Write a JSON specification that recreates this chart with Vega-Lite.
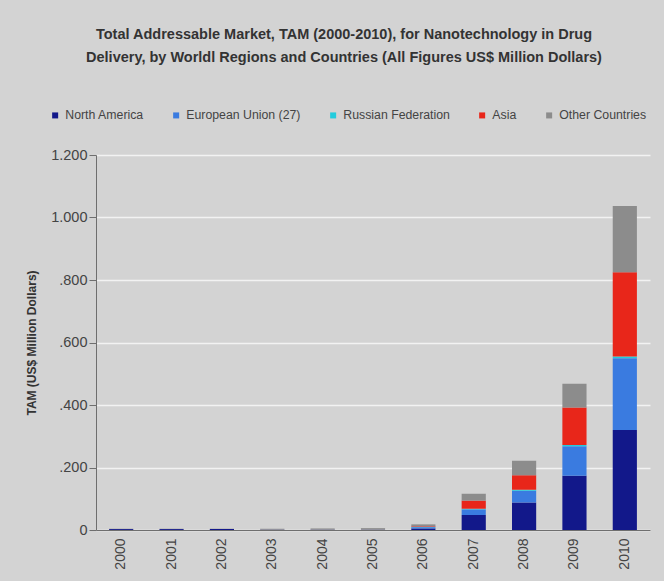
{
  "$schema": "https://vega.github.io/schema/vega-lite/v6.json",
  "width": 554,
  "height": 375,
  "autosize": "none",
  "padding": {"left": 96, "top": 155, "right": 14, "bottom": 51},
  "background": "#d3d3d3",
  "title": {
    "text": ["Total Addressable Market, TAM (2000-2010), for Nanotechnology in Drug", "Delivery, by Worldl Regions and Countries (All Figures US$ Million Dollars)"],
    "fontSize": 14.5,
    "fontWeight": "bold",
    "color": "#333333",
    "font": "Liberation Sans",
    "anchor": "middle",
    "frame": "group",
    "dx": -29,
    "offset": 44,
    "lineHeight": 23
  },
  "data": {
    "values": [
      {"year": "2000", "region": "North America", "k": 1, "tam": 3},
      {"year": "2000", "region": "Other Countries", "k": 5, "tam": 1},
      {"year": "2001", "region": "North America", "k": 1, "tam": 3},
      {"year": "2001", "region": "Other Countries", "k": 5, "tam": 1},
      {"year": "2002", "region": "North America", "k": 1, "tam": 3},
      {"year": "2002", "region": "Other Countries", "k": 5, "tam": 1},
      {"year": "2003", "region": "North America", "k": 1, "tam": 1},
      {"year": "2003", "region": "Other Countries", "k": 5, "tam": 3},
      {"year": "2004", "region": "North America", "k": 1, "tam": 1},
      {"year": "2004", "region": "Other Countries", "k": 5, "tam": 4},
      {"year": "2005", "region": "North America", "k": 1, "tam": 1},
      {"year": "2005", "region": "Other Countries", "k": 5, "tam": 5},
      {"year": "2006", "region": "North America", "k": 1, "tam": 5},
      {"year": "2006", "region": "European Union (27)", "k": 2, "tam": 4},
      {"year": "2006", "region": "Russian Federation", "k": 3, "tam": 1},
      {"year": "2006", "region": "Asia", "k": 4, "tam": 2},
      {"year": "2006", "region": "Other Countries", "k": 5, "tam": 6},
      {"year": "2007", "region": "North America", "k": 1, "tam": 48},
      {"year": "2007", "region": "European Union (27)", "k": 2, "tam": 18},
      {"year": "2007", "region": "Russian Federation", "k": 3, "tam": 2},
      {"year": "2007", "region": "Asia", "k": 4, "tam": 26},
      {"year": "2007", "region": "Other Countries", "k": 5, "tam": 22},
      {"year": "2008", "region": "North America", "k": 1, "tam": 88},
      {"year": "2008", "region": "European Union (27)", "k": 2, "tam": 38},
      {"year": "2008", "region": "Russian Federation", "k": 3, "tam": 3},
      {"year": "2008", "region": "Asia", "k": 4, "tam": 46},
      {"year": "2008", "region": "Other Countries", "k": 5, "tam": 47},
      {"year": "2009", "region": "North America", "k": 1, "tam": 174},
      {"year": "2009", "region": "European Union (27)", "k": 2, "tam": 94},
      {"year": "2009", "region": "Russian Federation", "k": 3, "tam": 4},
      {"year": "2009", "region": "Asia", "k": 4, "tam": 120},
      {"year": "2009", "region": "Other Countries", "k": 5, "tam": 76},
      {"year": "2010", "region": "North America", "k": 1, "tam": 320},
      {"year": "2010", "region": "European Union (27)", "k": 2, "tam": 230},
      {"year": "2010", "region": "Russian Federation", "k": 3, "tam": 5},
      {"year": "2010", "region": "Asia", "k": 4, "tam": 270},
      {"year": "2010", "region": "Other Countries", "k": 5, "tam": 212}
    ]
  },
  "mark": {"type": "bar", "stroke": null},
  "encoding": {
    "x": {
      "field": "year",
      "type": "nominal",
      "title": null,
      "scale": {"paddingInner": 0.52, "paddingOuter": 0.26},
      "axis": {
        "labelAngle": -90,
        "labelFontSize": 14,
        "labelColor": "#444444",
        "labelFont": "Liberation Sans",
        "labelPadding": 8,
        "ticks": false,
        "domainColor": "#6e6e6e",
        "grid": false
      }
    },
    "y": {
      "field": "tam",
      "type": "quantitative",
      "stack": "zero",
      "title": "TAM (US$ Million Dollars)",
      "scale": {"domain": [0, 1200], "nice": false},
      "axis": {
        "values": [0, 200, 400, 600, 800, 1000, 1200],
        "labelExpr": "datum.value >= 1000 ? replace(format(datum.value, ','), ',', '.') : (datum.value == 0 ? '0' : '.' + datum.value)",
        "labelFontSize": 14.5,
        "labelColor": "#444444",
        "labelFont": "Liberation Sans",
        "labelPadding": 2,
        "tickSize": 7,
        "tickColor": "#6e6e6e",
        "domainColor": "#6e6e6e",
        "gridColor": "#f2f2f2",
        "gridWidth": 1.5,
        "titleFontSize": 12,
        "titleFontWeight": "bold",
        "titleColor": "#333333",
        "titleFont": "Liberation Sans",
        "titlePadding": 12
      }
    },
    "color": {
      "field": "region",
      "type": "nominal",
      "scale": {
        "domain": ["North America", "European Union (27)", "Russian Federation", "Asia", "Other Countries"],
        "range": ["#12188a", "#3a7be0", "#22ccdd", "#e8261a", "#8c8c8c"]
      },
      "legend": {
        "title": null,
        "orient": "none",
        "direction": "horizontal",
        "legendX": -47,
        "legendY": -46,
        "symbolType": "square",
        "symbolSize": 36,
        "symbolStrokeWidth": 0,
        "labelFontSize": 12.3,
        "labelColor": "#444444",
        "labelFont": "Liberation Sans",
        "columnPadding": 26,
        "labelOffset": 4
      }
    },
    "order": {"field": "k", "type": "quantitative", "sort": "ascending"}
  },
  "config": {
    "view": {"stroke": null}
  }
}
